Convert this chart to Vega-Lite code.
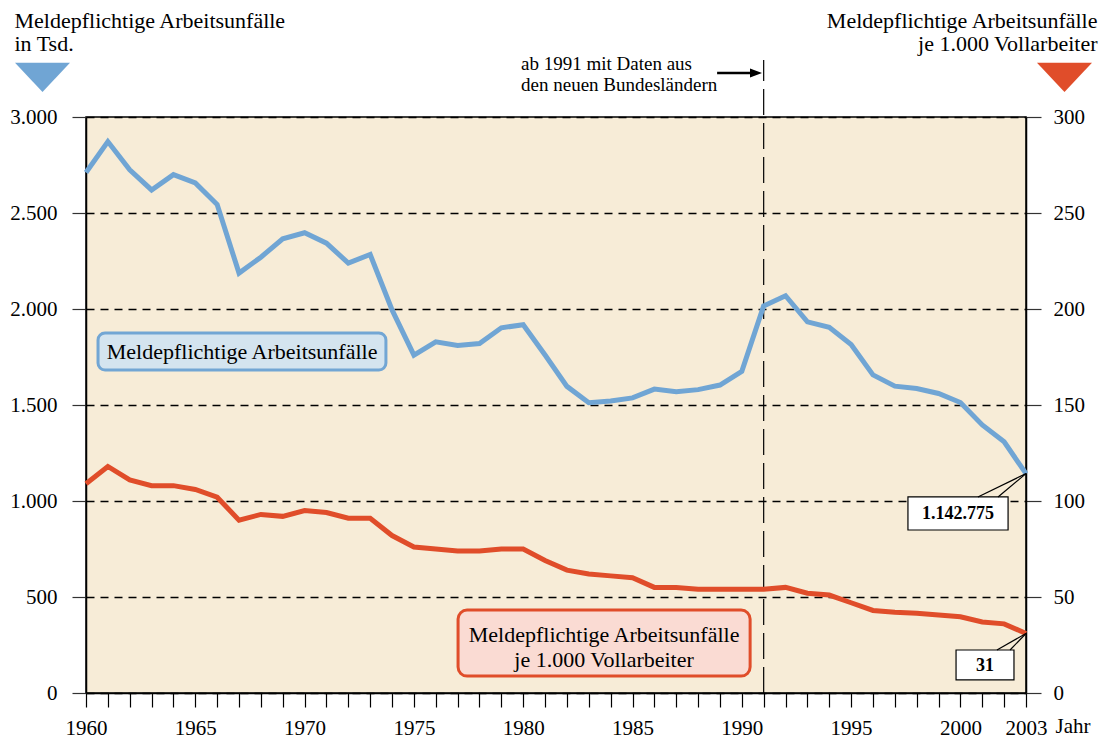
{
  "$schema": "https://vega.github.io/schema/vega-lite/v6.json",
  "width": 940,
  "height": 576,
  "autosize": {"type": "none"},
  "padding": {"left": 86, "top": 117, "right": 77, "bottom": 45},
  "background": "white",
  "config": {
    "font": "Liberation Serif",
    "view": {"stroke": "black", "strokeWidth": 1.5, "fill": "#F7ECD7"},
    "axis": {
      "labelFont": "Liberation Serif",
      "titleFont": "Liberation Serif",
      "labelColor": "black",
      "titleColor": "black",
      "labelFontSize": 21,
      "titleFontSize": 22,
      "titleFontWeight": "normal",
      "domainColor": "black",
      "domainWidth": 1.5,
      "tickColor": "#333333",
      "tickWidth": 1.2
    },
    "text": {"font": "Liberation Serif", "color": "black"}
  },
  "datasets": {
    "unfaelle": [
      {"jahr": 1960, "tsd": 2711, "quote": 109},
      {"jahr": 1961, "tsd": 2872, "quote": 118},
      {"jahr": 1962, "tsd": 2725, "quote": 111},
      {"jahr": 1963, "tsd": 2620, "quote": 108},
      {"jahr": 1964, "tsd": 2700, "quote": 108},
      {"jahr": 1965, "tsd": 2657, "quote": 106},
      {"jahr": 1966, "tsd": 2544, "quote": 102},
      {"jahr": 1967, "tsd": 2187, "quote": 90},
      {"jahr": 1968, "tsd": 2270, "quote": 93},
      {"jahr": 1969, "tsd": 2366, "quote": 92},
      {"jahr": 1970, "tsd": 2397, "quote": 95},
      {"jahr": 1971, "tsd": 2343, "quote": 94},
      {"jahr": 1972, "tsd": 2239, "quote": 91},
      {"jahr": 1973, "tsd": 2284, "quote": 91},
      {"jahr": 1974, "tsd": 1995, "quote": 82},
      {"jahr": 1975, "tsd": 1760, "quote": 76},
      {"jahr": 1976, "tsd": 1829, "quote": 75},
      {"jahr": 1977, "tsd": 1810, "quote": 74},
      {"jahr": 1978, "tsd": 1820, "quote": 74},
      {"jahr": 1979, "tsd": 1902, "quote": 75},
      {"jahr": 1980, "tsd": 1918, "quote": 75},
      {"jahr": 1981, "tsd": 1760, "quote": 69},
      {"jahr": 1982, "tsd": 1597, "quote": 64},
      {"jahr": 1983, "tsd": 1512, "quote": 62},
      {"jahr": 1984, "tsd": 1521, "quote": 61},
      {"jahr": 1985, "tsd": 1537, "quote": 60},
      {"jahr": 1986, "tsd": 1583, "quote": 55},
      {"jahr": 1987, "tsd": 1569, "quote": 55},
      {"jahr": 1988, "tsd": 1580, "quote": 54},
      {"jahr": 1989, "tsd": 1604, "quote": 54},
      {"jahr": 1990, "tsd": 1675, "quote": 54},
      {"jahr": 1991, "tsd": 2016, "quote": 54},
      {"jahr": 1992, "tsd": 2069, "quote": 55},
      {"jahr": 1993, "tsd": 1933, "quote": 52},
      {"jahr": 1994, "tsd": 1905, "quote": 51},
      {"jahr": 1995, "tsd": 1815, "quote": 47},
      {"jahr": 1996, "tsd": 1657, "quote": 43},
      {"jahr": 1997, "tsd": 1598, "quote": 42},
      {"jahr": 1998, "tsd": 1586, "quote": 41.5},
      {"jahr": 1999, "tsd": 1560, "quote": 40.6},
      {"jahr": 2000, "tsd": 1513, "quote": 39.7},
      {"jahr": 2001, "tsd": 1396, "quote": 37},
      {"jahr": 2002, "tsd": 1308, "quote": 36},
      {"jahr": 2003, "tsd": 1142.775, "quote": 31}
    ]
  },
  "layer": [
    {
      "data": {"values": [{}]},
      "mark": {"type": "rule", "color": "black", "strokeWidth": 1.2, "strokeDash": [26, 8]},
      "encoding": {
        "x": {"datum": 1991, "type": "quantitative", "scale": {"domain": [1960, 2003], "nice": false, "zero": false}, "axis": null},
        "y": {"datum": 0, "type": "quantitative", "scale": {"domain": [0, 3000], "nice": false}, "axis": null},
        "y2": {"datum": 3297}
      }
    },
    {
      "data": {"values": [{}]},
      "mark": {"type": "rule", "color": "black", "strokeWidth": 2.5},
      "encoding": {
        "x": {"datum": 1988.87, "type": "quantitative", "axis": null},
        "x2": {"datum": 1990.47},
        "y": {"datum": 3229, "type": "quantitative", "scale": {"domain": [0, 3000], "nice": false}, "axis": null}
      }
    },
    {
      "data": {"values": [{}]},
      "mark": {"type": "point", "shape": "M-1,-0.75L1,0L-1,0.75Z", "filled": true, "color": "black", "size": 144, "opacity": 1},
      "encoding": {
        "x": {"datum": 1990.65, "type": "quantitative", "axis": null},
        "y": {"datum": 3229, "type": "quantitative", "scale": {"domain": [0, 3000], "nice": false}, "axis": null}
      }
    },
    {
      "data": {"values": [{"t": "ab 1991 mit Daten aus\nden neuen Bundesländern"}]},
      "mark": {"type": "text", "align": "left", "baseline": "middle", "fontSize": 19, "lineBreak": "\n", "lineHeight": 20.5},
      "encoding": {
        "x": {"datum": 1979.9, "type": "quantitative", "axis": null},
        "y": {"datum": 3276, "type": "quantitative", "scale": {"domain": [0, 3000], "nice": false}, "axis": null},
        "text": {"field": "t"}
      }
    },
    {
      "data": {"values": [{}]},
      "mark": {"type": "point", "shape": "M-1,-0.53L1,-0.53L0,0.53Z", "filled": true, "color": "#70A5D4", "size": 3025, "opacity": 1},
      "encoding": {
        "x": {"datum": 1958.01, "type": "quantitative", "axis": null},
        "y": {"datum": 3206, "type": "quantitative", "scale": {"domain": [0, 3000], "nice": false}, "axis": null}
      }
    },
    {
      "data": {"values": [{}]},
      "mark": {"type": "point", "shape": "M-1,-0.53L1,-0.53L0,0.53Z", "filled": true, "color": "#E04D2A", "size": 3025, "opacity": 1},
      "encoding": {
        "x": {"datum": 2004.76, "type": "quantitative", "axis": null},
        "y": {"datum": 3206, "type": "quantitative", "scale": {"domain": [0, 3000], "nice": false}, "axis": null}
      }
    },
    {
      "data": {"values": [{}]},
      "mark": {"type": "rect", "fill": "#D4E4EF", "stroke": "#72A6D4", "strokeWidth": 3, "cornerRadius": 7},
      "encoding": {
        "x": {"datum": 1960.55, "type": "quantitative", "axis": null},
        "x2": {"datum": 1973.72},
        "y": {"datum": 1875, "type": "quantitative", "scale": {"domain": [0, 3000], "nice": false}, "axis": null},
        "y2": {"datum": 1682}
      }
    },
    {
      "data": {"values": [{"t": "Meldepflichtige Arbeitsunfälle"}]},
      "mark": {"type": "text", "align": "center", "baseline": "middle", "fontSize": 22},
      "encoding": {
        "x": {"datum": 1967.14, "type": "quantitative", "axis": null},
        "y": {"datum": 1776, "type": "quantitative", "scale": {"domain": [0, 3000], "nice": false}, "axis": null},
        "text": {"field": "t"}
      }
    },
    {
      "data": {"values": [{}]},
      "mark": {"type": "rect", "fill": "#FADBD3", "stroke": "#E04D2A", "strokeWidth": 3, "cornerRadius": 9},
      "encoding": {
        "x": {"datum": 1977.02, "type": "quantitative", "axis": null},
        "x2": {"datum": 1990.38},
        "y": {"datum": 432, "type": "quantitative", "scale": {"domain": [0, 3000], "nice": false}, "axis": null},
        "y2": {"datum": 88}
      }
    },
    {
      "data": {"values": [{"t": "Meldepflichtige Arbeitsunfälle\nje 1.000 Vollarbeiter"}]},
      "mark": {"type": "text", "align": "center", "baseline": "middle", "fontSize": 22, "lineBreak": "\n", "lineHeight": 25},
      "encoding": {
        "x": {"datum": 1983.7, "type": "quantitative", "axis": null},
        "y": {"datum": 300, "type": "quantitative", "scale": {"domain": [0, 3000], "nice": false}, "axis": null},
        "text": {"field": "t"}
      }
    },
    {
      "data": {"name": "unfaelle"},
      "mark": {"type": "line", "color": "#70A5D4", "strokeWidth": 5, "strokeJoin": "miter"},
      "encoding": {
        "x": {
          "field": "jahr",
          "type": "quantitative",
          "scale": {"domain": [1960, 2003], "nice": false, "zero": false},
          "axis": {
            "values": [1960, 1961, 1962, 1963, 1964, 1965, 1966, 1967, 1968, 1969, 1970, 1971, 1972, 1973, 1974, 1975, 1976, 1977, 1978, 1979, 1980, 1981, 1982, 1983, 1984, 1985, 1986, 1987, 1988, 1989, 1990, 1991, 1992, 1993, 1994, 1995, 1996, 1997, 1998, 1999, 2000, 2001, 2002, 2003],
            "labelExpr": "(datum.value % 5 == 0 || datum.value == 2003) ? format(datum.value, 'd') : ''",
            "labelFont": "Liberation Serif",
            "labelFlush": false,
            "labelOverlap": false,
            "labelPadding": 10,
            "tickSize": 14,
            "tickColor": "black",
            "grid": false,
            "title": "Jahr",
            "titleFont": "Liberation Serif",
            "titleFontSize": 21,
            "titleAlign": "left",
            "titleBaseline": "alphabetic",
            "titleX": 969,
            "titleY": 39
          }
        },
        "y": {
          "field": "tsd",
          "type": "quantitative",
          "scale": {"domain": [0, 3000], "nice": false},
          "axis": {
            "orient": "left",
            "values": [0, 500, 1000, 1500, 2000, 2500, 3000],
            "labelExpr": "replace(format(datum.value, ','), ',', '.')",
            "labelFont": "Liberation Serif",
            "grid": true,
            "gridColor": "black",
            "gridDash": [8, 6],
            "gridWidth": 1.5,
            "tickSize": 14,
            "labelPadding": 15,
            "title": ["Meldepflichtige Arbeitsunfälle", "in Tsd."],
            "titleFont": "Liberation Serif",
            "titleAngle": 0,
            "titleAlign": "left",
            "titleBaseline": "top",
            "titleX": -72,
            "titleY": -107,
            "titleLineHeight": 23
          }
        }
      }
    },
    {
      "data": {"name": "unfaelle"},
      "mark": {"type": "line", "color": "#E04D2A", "strokeWidth": 5, "strokeJoin": "miter"},
      "encoding": {
        "x": {"field": "jahr", "type": "quantitative", "axis": null},
        "y": {
          "field": "quote",
          "type": "quantitative",
          "scale": {"domain": [0, 300], "nice": false},
          "axis": {
            "orient": "right",
            "values": [0, 50, 100, 150, 200, 250, 300],
            "labelFont": "Liberation Serif",
            "grid": false,
            "tickSize": 15,
            "labelPadding": 12,
            "title": ["Meldepflichtige Arbeitsunfälle", "je 1.000 Vollarbeiter"],
            "titleFont": "Liberation Serif",
            "titleAngle": 0,
            "titleAlign": "right",
            "titleBaseline": "top",
            "titleX": 71,
            "titleY": -107,
            "titleLineHeight": 23
          }
        }
      }
    },
    {
      "data": {"values": [{}]},
      "mark": {"type": "rect", "fill": "white", "stroke": "black", "strokeWidth": 1.2},
      "encoding": {
        "x": {"datum": 1997.6, "type": "quantitative", "axis": null},
        "x2": {"datum": 2002.18},
        "y": {"datum": 1021, "type": "quantitative", "scale": {"domain": [0, 3000], "nice": false}, "axis": null},
        "y2": {"datum": 849}
      }
    },
    {
      "data": {"values": [{}]},
      "mark": {"type": "rule", "color": "black", "strokeWidth": 1.2},
      "encoding": {
        "x": {"datum": 2000.8, "type": "quantitative", "axis": null},
        "x2": {"datum": 2003},
        "y": {"datum": 1021, "type": "quantitative", "scale": {"domain": [0, 3000], "nice": false}, "axis": null},
        "y2": {"datum": 1142.775}
      }
    },
    {
      "data": {"values": [{}]},
      "mark": {"type": "rule", "color": "black", "strokeWidth": 1.2},
      "encoding": {
        "x": {"datum": 2001.72, "type": "quantitative", "axis": null},
        "x2": {"datum": 2003},
        "y": {"datum": 1021, "type": "quantitative", "scale": {"domain": [0, 3000], "nice": false}, "axis": null},
        "y2": {"datum": 1142.775}
      }
    },
    {
      "data": {"values": [{"t": "1.142.775"}]},
      "mark": {"type": "text", "align": "center", "baseline": "middle", "fontSize": 18, "fontWeight": "bold"},
      "encoding": {
        "x": {"datum": 1999.89, "type": "quantitative", "axis": null},
        "y": {"datum": 930, "type": "quantitative", "scale": {"domain": [0, 3000], "nice": false}, "axis": null},
        "text": {"field": "t"}
      }
    },
    {
      "data": {"values": [{}]},
      "mark": {"type": "rect", "fill": "white", "stroke": "black", "strokeWidth": 1.2},
      "encoding": {
        "x": {"datum": 1999.8, "type": "quantitative", "axis": null},
        "x2": {"datum": 2002.45},
        "y": {"datum": 224, "type": "quantitative", "scale": {"domain": [0, 3000], "nice": false}, "axis": null},
        "y2": {"datum": 68}
      }
    },
    {
      "data": {"values": [{}]},
      "mark": {"type": "rule", "color": "black", "strokeWidth": 1.2},
      "encoding": {
        "x": {"datum": 2001.67, "type": "quantitative", "axis": null},
        "x2": {"datum": 2003},
        "y": {"datum": 224, "type": "quantitative", "scale": {"domain": [0, 3000], "nice": false}, "axis": null},
        "y2": {"datum": 310}
      }
    },
    {
      "data": {"values": [{}]},
      "mark": {"type": "rule", "color": "black", "strokeWidth": 1.2},
      "encoding": {
        "x": {"datum": 2002.27, "type": "quantitative", "axis": null},
        "x2": {"datum": 2003},
        "y": {"datum": 224, "type": "quantitative", "scale": {"domain": [0, 3000], "nice": false}, "axis": null},
        "y2": {"datum": 310}
      }
    },
    {
      "data": {"values": [{"t": "31"}]},
      "mark": {"type": "text", "align": "center", "baseline": "middle", "fontSize": 18, "fontWeight": "bold"},
      "encoding": {
        "x": {"datum": 2001.13, "type": "quantitative", "axis": null},
        "y": {"datum": 141, "type": "quantitative", "scale": {"domain": [0, 3000], "nice": false}, "axis": null},
        "text": {"field": "t"}
      }
    }
  ],
  "resolve": {"scale": {"y": "independent"}, "axis": {"x": "independent"}}
}
